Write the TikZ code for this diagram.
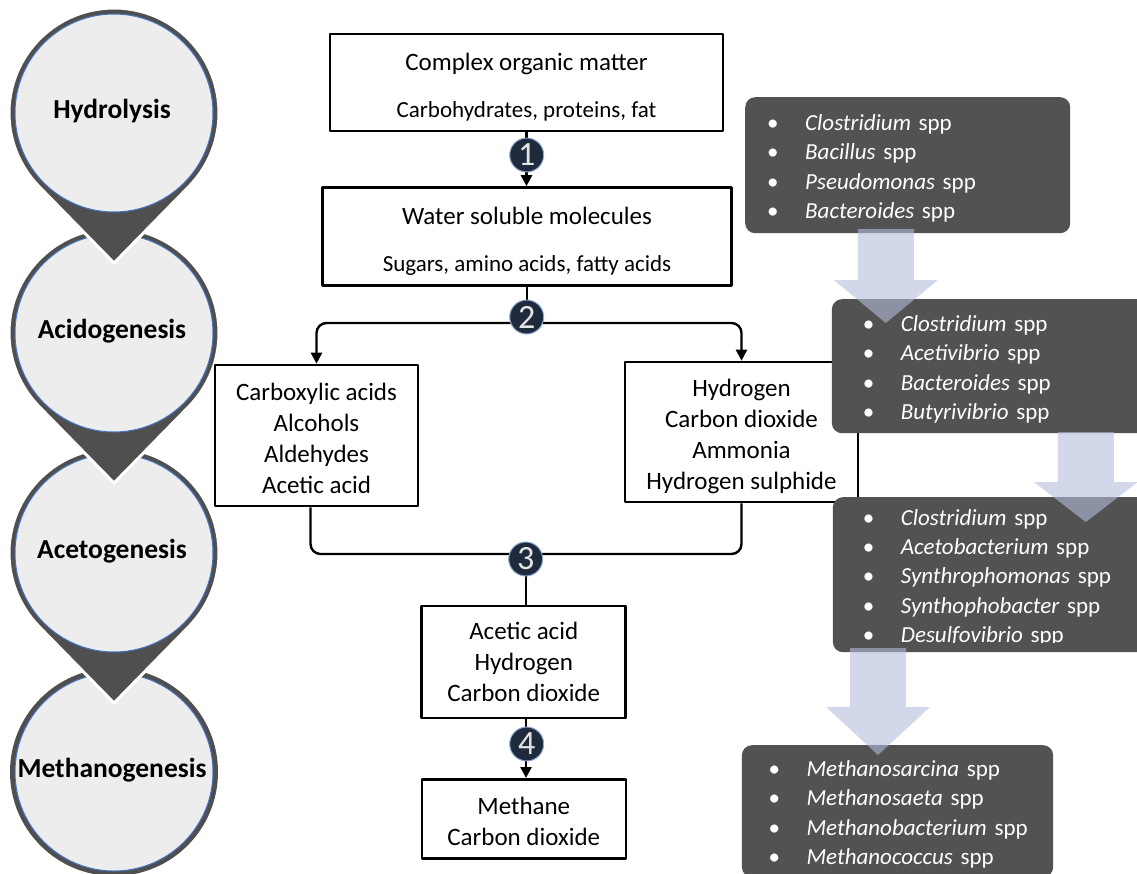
\documentclass[tikz,border=0pt]{standalone}
\usepackage{fontspec}
\setmainfont{Carlito}
\usetikzlibrary{arrows.meta}

\definecolor{ringgray}{HTML}{4F4F4F}
\definecolor{stagefill}{HTML}{EDEDED}
\definecolor{stageblue}{HTML}{4472C4}
\definecolor{boxgray}{HTML}{525252}
\definecolor{badgenavy}{HTML}{1F2B3D}
\definecolor{badgeline}{HTML}{8EA9D0}
\definecolor{badgetext}{HTML}{E4E4E4}
\definecolor{flowblue}{HTML}{B4BCDC}

\newcommand{\bigfont}{\fontsize{25}{31}\selectfont}
\newcommand{\subfont}{\fontsize{23}{31}\selectfont}
\newcommand{\spfont}{\fontsize{23}{29.3}\selectfont}
\newcommand{\upstrut}{\rule{0pt}{29pt}}
\newcommand{\downstrut}{\rule[-7pt]{0pt}{7pt}}
\newcommand{\bug}[1]{\makebox[38pt][l]{\textbullet}\textit{#1}~spp}

\begin{document}
\begin{tikzpicture}[x=1pt, y=-1pt, line join=round,
	stage/.style={font=\fontsize{27.5}{30}\selectfont\bfseries},
	box/.style={draw=black, line width=2.6pt, fill=white, align=center, inner sep=0pt, font=\bigfont},
	flow/.style={line width=2.4pt},
	tip/.style={-{Triangle[length=11pt,width=11pt]}},
	badge/.style={circle, fill=badgenavy, draw=badgeline, line width=1pt, minimum size=34pt, inner sep=0pt, text=badgetext, font=\fontsize{34}{34}\selectfont},
	bugs/.style={fill=boxgray, rounded corners=10pt, anchor=north west, align=left, text=white, font=\spfont, inner ysep=0pt,
		execute at begin node=\rule{0pt}{22pt}},
	bigarrow/.style={fill=flowblue, fill opacity=0.6}]
	% Page window in pixels of the original
	\useasboundingbox (0,0) rectangle (1137,873);
	
	% Stage pins, drawn from the bottom up so each point lies over the next one
	\foreach \yc/\lab in {772/Methanogenesis, 553/Acetogenesis, 333/Acidogenesis, 113/Hydrolysis}{
		\ifnum\yc=772
			\fill[ringgray] (114,\yc) circle (104);
		\else
			\filldraw[ringgray, draw=white, line width=3pt] (114,\yc) ++(136:105) arc[start angle=136, end angle=404, radius=105] -- (114,\yc+150) -- cycle;
		\fi
		\filldraw[fill=stagefill, draw=stageblue, line width=1pt] (114,\yc) circle (99);
		\node[stage] (\lab) at (112,\yc-2) {\lab};
	}
	
	% Products of each step
	\node[box, minimum width=393pt, minimum height=97pt] (organic) at (526.5,82.5)
		{\upstrut Complex organic matter\\[16pt]{\subfont Carbohydrates, proteins, fat}\downstrut};
	\node[box, minimum width=409pt, minimum height=98pt] (soluble) at (527,236.5)
		{\upstrut Water soluble molecules\\[16pt]{\subfont Sugars, amino acids, fatty acids}\downstrut};
	\node[box, minimum width=203pt, minimum height=141pt] (acids) at (316.5,435.5)
		{\upstrut Carboxylic acids\\Alcohols\\Aldehydes\\Acetic acid\downstrut};
	\node[box, minimum width=233pt, minimum height=140pt] (gases) at (741.5,432)
		{\upstrut Hydrogen\\Carbon dioxide\\Ammonia\\Hydrogen sulphide\downstrut};
	\node[box, minimum width=204pt, minimum height=112pt] (acetic) at (523.7,662)
		{Acetic acid\\Hydrogen\\Carbon dioxide};
	\node[box, minimum width=204pt, minimum height=79pt] (methane) at (523.8,818.8)
		{\upstrut Methane\\Carbon dioxide\downstrut};
	
	% Connectors between the products
	\coordinate (split) at (527,323);
	\coordinate (merge) at (526,554);
	\draw[flow, tip] (organic.south) -- (organic.south |- soluble.north);
	\draw[flow] (soluble.south) -- (split);
	\draw[flow, tip, rounded corners=10pt] (split) -| (acids.north);
	\draw[flow, tip, rounded corners=10pt] (split) -| (gases.north);
	\draw[flow, rounded corners=10pt] ([xshift=-6pt]acids.south) |- (merge) -| (gases.south);
	\draw[flow] (merge) -- (merge |- acetic.north);
	\draw[flow, tip] (acetic.south -| merge) -- (merge |- methane.north);
	
	% Step numbers
	\node[badge] (b1) at (526.7,155) {1};
	\node[badge] (b2) at (526.7,317) {2};
	\node[badge] (b3) at (525.7,559) {3};
	\node[badge] (b4) at (526.7,744) {4};
	
	% Microorganisms of each stage
	\node[bugs, inner xsep=22pt, text width=281pt, minimum height=136pt] (hydro) at (745,97)
		{\bug{Clostridium}\\\bug{Bacillus}\\\bug{Pseudomonas}\\\bug{Bacteroides}};
	\node[bugs, inner xsep=31pt, text width=260pt, minimum height=134pt] (acido) at (831.7,299)
		{\bug{Clostridium}\\\bug{Acetivibrio}\\\bug{Bacteroides}\\\bug{Butyrivibrio}};
	\node[bugs, inner xsep=30pt, text width=262pt, minimum height=155pt] (aceto) at (832.7,497)
		{\bug{Clostridium}\\\bug{Acetobacterium}\\\bug{Synthrophomonas}\\\bug{Synthophobacter}\\\bug{Desulfovibrio}};
	\fill[boxgray] (845,643) rectangle (1140,650);
	\node[bugs, inner xsep=26.6pt, text width=258pt, minimum height=132pt] (methano) at (741.7,745)
		{\bug{Methanosarcina}\\\bug{Methanosaeta}\\\bug{Methanobacterium}\\\bug{Methanococcus}};
	
	% Pale arrows from one group to the next
	\foreach \cx/\ya/\yb/\yt in {885.8/229/280/323, 1085.8/432/482/522, 878/648/707/755}
		\fill[bigarrow] (\cx-28,\ya) -- (\cx+28,\ya) -- (\cx+28,\yb) -- (\cx+52,\yb) -- (\cx,\yt) -- (\cx-52,\yb) -- (\cx-28,\yb) -- cycle;
\end{tikzpicture}
\end{document}
